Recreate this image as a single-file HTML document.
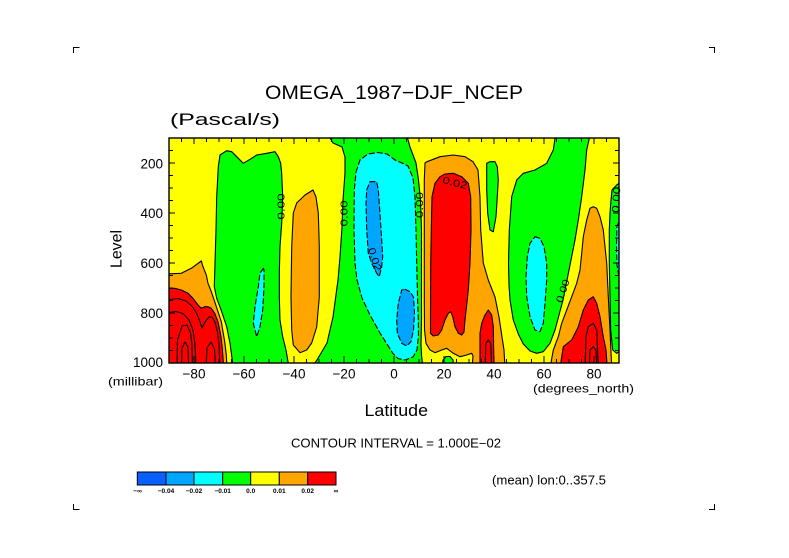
<!DOCTYPE html>
<html><head><meta charset="utf-8">
<style>
html,body{margin:0;padding:0;background:#fff;}
svg{display:block;}
text{font-family:"Liberation Sans",sans-serif;fill:#000;}
</style></head><body>
<svg width="789" height="558" viewBox="0 0 789 558" xmlns="http://www.w3.org/2000/svg">
<defs><clipPath id="c"><rect x="169" y="138" width="450" height="225"/></clipPath></defs>
<rect x="0" y="0" width="789" height="558" fill="#fff"/>

<!-- corner marks -->
<path d="M73.5,53 V47.5 H79.5 M709,47.5 H714.5 V53 M73.5,504 V509.5 H79.5 M714.5,504 V509.5 H709" fill="none" stroke="#000" stroke-width="1"/>

<!-- titles -->
<text x="265" y="99" font-size="19.5" textLength="258" lengthAdjust="spacingAndGlyphs">OMEGA_1987−DJF_NCEP</text>
<text x="170" y="125" font-size="16.5" textLength="110" lengthAdjust="spacingAndGlyphs">(Pascal/s)</text>

<g clip-path="url(#c)" stroke="#000" stroke-width="1.1" stroke-linejoin="round" stroke-linecap="round">
<rect x="169" y="138" width="450" height="225" fill="#ffff00" stroke="none"/>

<!-- green regions (0 contour, solid) -->
<g fill="#00ff00">
<path d="M220,155 L226.7,150.7 L231.7,151.7 L236.7,156.7 L243.3,163.3 L250,159.3 L256.7,155 L266.7,153.3 L275,151.7 L278.3,156.7 L280.7,163.3 L281.7,173.3 L282.7,196.7 L281.7,223.3 L280,246.7 L279.3,273.3 L279.3,296.7 L280,320 L282.7,336.7 L286,350 L288.3,363.3 L289,368 L232,368 L232.7,363.3 L230,343.3 L226.7,326.7 L221.7,311.7 L216.7,298.3 L214.3,286.7 L215,263.3 L216,230 L216.7,196.7 L218.3,166.7 Z"/>
<path d="M328,134 L330,138 L333,143 L342,147 L345,157 L345,173 L343,200 L342,227 L340,257 L338,280 L333,317 L327,343 L317,360 L311,368 L423,368 L421.5,355 L421,345 L421.5,320 L421.5,280 L421.5,230 L420.5,200 L418.5,180 L416,163 L413,155 L410,147 L407.5,138 L406,134 Z"/>
<path d="M442,368 L443,360 L446,356.5 L450,356.5 L453,360 L454,368 Z"/>
<path d="M486.7,163.3 L490,161.7 L495,161.7 L497.3,166.7 L498.3,180 L497.3,196.7 L496,216.7 L493.3,231.7 L490,230 L487.7,213.3 L486.7,190 Z"/>
<path d="M555,134 L555,138.3 L553.3,150 L546.7,163.3 L535,170 L523.3,173.3 L516.7,180 L511.7,196.7 L509.3,230 L508.5,263 L509,285 L510,300 L513.3,320 L518.3,334 L523.3,344 L530,351 L536.7,353.3 L543.3,351.7 L550,343.3 L555,330 L559,315 L563,300 L566,285 L569,270 L572,255 L575,240 L578.3,220 L581.7,196.7 L585,170 L586.7,150 L589.3,138.3 L590,134 Z"/>
<path d="M610,213.3 L611,200 L612,190 L616.7,185 L619,183.3 L624,183 L624,352 L619,351.7 L616.7,353.3 L612.7,350 L610.7,330 L610,296.7 L609.3,263.3 L609.3,230 Z"/>
</g>

<!-- cyan regions (-0.01, dashed) -->
<g fill="#00ffff" stroke-dasharray="5,3">
<path d="M263.3,268.3 L260,273.3 L258.3,286.7 L255,306.7 L253.3,323.3 L256.7,336.7 L260,326.7 L262.7,310 L264,286.7 L264,270 Z"/>
<path d="M356,172 L360,160 L368,154 L378,152.5 L387,154 L395,160 L402,163 L408,166 L413,178 L415,197 L416,230 L416.7,263 L417.5,297 L418.3,320 L418.5,335 L417,350 L413,357 L405,360 L398,358.5 L393,353.5 L387,344 L380,333 L370,315 L362,298 L357,280 L355,263 L354,230 L354.3,190 Z"/>
<path d="M535,236.7 L540,238.3 L544,246.7 L546.7,263.3 L546.7,280 L545,303.3 L543.3,323.3 L540,331.7 L535,330 L530,316.7 L526.7,296.7 L526,276.7 L527.3,256.7 L530,243.3 Z"/>
<path d="M617,226 L619,222 L624,222 L624,278 L619,277 L617,265 L616.5,245 Z"/>
</g>

<!-- blue regions (-0.02, dashed) -->
<g fill="#00a5ff" stroke-dasharray="5,3">
<path d="M370,181.7 L376.7,181.7 L378.3,190 L380,213.3 L381.7,240 L382.7,256.7 L381.7,266.7 L379.3,276.7 L376.7,273.3 L371.7,263.3 L368.3,253.3 L366.7,230 L366,203.3 L366.7,190 Z"/>
<path d="M405,289.3 L410,291.7 L413.5,297 L414.5,313.3 L413.5,330 L411,341.7 L406.7,346 L401.7,343.3 L397.3,333.3 L396.7,320 L398.3,303.3 L401.7,290 Z"/>
</g>

<!-- orange regions (0.01) -->
<g fill="#ffa500">
<path d="M165,274 L181.3,273.3 L191.3,268.3 L201.3,261 L203,266.7 L206.3,275 L208,283.3 L211.3,291.7 L214.7,301.7 L218,311.7 L221.3,321.7 L223,331.7 L224.7,341.7 L226.3,355 L227,368 L165,368 Z"/>
<path d="M313,190 L316,197 L318.3,213 L319.3,247 L319.3,297 L316.7,327 L311.7,343 L306.7,350 L300,352.7 L293.3,345 L291.7,330 L291,297 L291.7,247 L293.3,213 L296.7,203 L305,195 Z"/>
<path d="M425,163 L427,161.7 L440,156.7 L453,155 L465,156.7 L473,161.7 L478,170 L480,197 L480.7,230 L483.3,263 L488.3,280 L495,297 L499,317 L502,337 L504,350 L505,368 L472,368 L473,356 L471.7,353.3 L466.7,355 L460,356.7 L453.3,353.3 L446.7,348.3 L441.7,350 L435,352.7 L430,350 L426,343.3 L424.5,330 L424.3,300 L424.3,230 L424.3,180 Z"/>
<path d="M590,208.3 L593.3,206.7 L596.7,208.3 L600,216.7 L603.3,230 L606.7,263.3 L608.3,296.7 L610,330 L611.7,368 L550,368 L553.3,350 L558.3,336.7 L561.7,323.3 L566.7,310 L571.7,296.7 L576.7,283.3 L580,270 L581.7,253.3 L583.3,236.7 L586.7,220 Z"/>
</g>

<!-- red regions (0.02) -->
<g fill="#ff0000">
<path d="M165,288.3 L174.7,288.3 L181.3,290 L188,293.3 L193,298.3 L198,305 L201.3,308.3 L204.7,306.7 L208,306.7 L211.3,308.3 L214.7,313.3 L218,321.7 L220.7,335 L222.3,348.3 L223.7,368 L165,368 Z"/>
<path d="M440,176.7 L445,174 L453.3,173.3 L461.7,176.7 L468.3,183.3 L470.7,196.7 L471,230 L470,263.3 L468.3,290 L466.7,305 L465,320 L464,332 L461.7,335 L458.3,333.3 L455,326.7 L452.7,316.7 L450.7,311.7 L448.3,313.3 L445,320 L441.7,330 L438.3,335 L433.3,336 L430.5,333.3 L430.5,316.7 L430.7,263.3 L431.3,230 L432,196.7 L435,183.3 Z"/>
<path d="M480,368 L480,333.3 L481.7,323.3 L485,315 L488.3,310 L491.7,315 L493.3,326.7 L494,368 Z"/>
<path d="M560,368 L563.3,346.7 L571.7,340 L578.3,326.7 L583.3,310 L588.3,300 L593.3,296.7 L596.7,303.3 L600,316.7 L603.3,336.7 L606,350 L607.3,368 Z"/>
</g>

<!-- inner contour lines -->
<g fill="none">
<path d="M166,300 L178,298.5 L186,301 L192,306 L197,314 L200,322 L202,328 L205,322 L209,317 L212,317 L215,322 L217.5,332 L219,345 L220,368"/>
<path d="M166,313 L176,311.5 L183,313.5 L189,320 L193,330 L195,345 L196,368"/>
<path d="M177,368 L177.5,340 L182,326 L187,325 L190.5,333 L192,345 L192.5,368"/>
<path d="M181.5,368 L182,348 L185,342 L188,347 L188.5,368"/>
<path d="M206,368 L207,348 L211,342 L214.5,349 L215.5,368"/>
<path d="M485,368 L486,343.3 L488.3,340 L490.7,343.3 L491.7,368"/>
<path d="M585,368 L586,336.7 L588.3,326.7 L593.3,323.3 L596.7,330 L598.3,368"/>
<path d="M589.3,368 L590,350 L593.3,346.7 L596,350 L596.7,368"/>
</g>
</g>

<!-- contour labels -->
<g font-size="10">
<text transform="translate(284.5,206.5) rotate(-90)" text-anchor="middle" textLength="26" lengthAdjust="spacingAndGlyphs">0.00</text>
<text transform="translate(347.5,213.5) rotate(-90)" text-anchor="middle" textLength="26" lengthAdjust="spacingAndGlyphs">0.00</text>
<text transform="translate(368,249) rotate(72)" textLength="24" lengthAdjust="spacingAndGlyphs">0.02</text>
<text transform="translate(423,205) rotate(-90)" text-anchor="middle" textLength="26" lengthAdjust="spacingAndGlyphs">0.00</text>
<text transform="translate(442,183) rotate(14)" textLength="25" lengthAdjust="spacingAndGlyphs">0.02</text>
<text transform="translate(566,292) rotate(-72)" text-anchor="middle" textLength="24" lengthAdjust="spacingAndGlyphs">0.00</text>
<text transform="translate(619.5,200) rotate(-86)" text-anchor="middle" textLength="26" lengthAdjust="spacingAndGlyphs">0.00</text>
</g>

<!-- ticks -->
<path fill="none" stroke="#000" stroke-width="1" d="
M181.5,363v-4M206.5,363v-4M219,363v-4M231.5,363v-4M256.5,363v-4M269,363v-4M281.5,363v-4M306.5,363v-4M319,363v-4M331.5,363v-4M356.5,363v-4M369,363v-4M381.5,363v-4M406.5,363v-4M419,363v-4M431.5,363v-4M456.5,363v-4M469,363v-4M481.5,363v-4M506.5,363v-4M519,363v-4M531.5,363v-4M556.5,363v-4M569,363v-4M581.5,363v-4M606.5,363v-4
M194,363v-7M244,363v-7M294,363v-7M344,363v-7M394,363v-7M444,363v-7M494,363v-7M544,363v-7M594,363v-7
M181.5,138v4M206.5,138v4M219,138v4M231.5,138v4M256.5,138v4M269,138v4M281.5,138v4M306.5,138v4M319,138v4M331.5,138v4M356.5,138v4M369,138v4M381.5,138v4M406.5,138v4M419,138v4M431.5,138v4M456.5,138v4M469,138v4M481.5,138v4M506.5,138v4M519,138v4M531.5,138v4M556.5,138v4M569,138v4M581.5,138v4M606.5,138v4
M194,138v6M244,138v6M294,138v6M344,138v6M394,138v6M444,138v6M494,138v6M544,138v6M594,138v6
M169,150.5h4M169,175.5h4M169,188h4M169,200.5h4M169,225.5h4M169,238h4M169,250.5h4M169,275.5h4M169,288h4M169,300.5h4M169,325.5h4M169,338h4M169,350.5h4
M169,163h6M169,213h6M169,263h6M169,313h6
M619,150.5h-4M619,175.5h-4M619,188h-4M619,200.5h-4M619,225.5h-4M619,238h-4M619,250.5h-4M619,275.5h-4M619,288h-4M619,300.5h-4M619,325.5h-4M619,338h-4M619,350.5h-4
M619,163h-6M619,213h-6M619,263h-6M619,313h-6"/>

<!-- plot border -->
<rect x="169" y="138" width="450" height="225" fill="none" stroke="#000" stroke-width="1.4"/>

<!-- axis labels -->
<g font-size="13.5" text-anchor="end">
<text x="163" y="168.3">200</text>
<text x="163" y="218">400</text>
<text x="163" y="268">600</text>
<text x="163" y="318">800</text>
<text x="163" y="367">1000</text>
</g>
<g font-size="13.5" text-anchor="middle">
<text x="194" y="378.5">−80</text>
<text x="244" y="378.5">−60</text>
<text x="294" y="378.5">−40</text>
<text x="344" y="378.5">−20</text>
<text x="394" y="378.5">0</text>
<text x="444" y="378.5">20</text>
<text x="494" y="378.5">40</text>
<text x="544" y="378.5">60</text>
<text x="594" y="378.5">80</text>
</g>
<text transform="translate(121.5,268) rotate(-90)" font-size="16" textLength="38" lengthAdjust="spacingAndGlyphs">Level</text>
<text x="108" y="385.5" font-size="12" textLength="55" lengthAdjust="spacingAndGlyphs">(millibar)</text>
<text x="533" y="392.5" font-size="12" textLength="101" lengthAdjust="spacingAndGlyphs">(degrees_north)</text>
<text x="364.5" y="416" font-size="16.5" textLength="63.5" lengthAdjust="spacingAndGlyphs">Latitude</text>
<text x="291" y="447.5" font-size="12.5" textLength="210" lengthAdjust="spacingAndGlyphs">CONTOUR INTERVAL = 1.000E−02</text>
<text x="492" y="484.5" font-size="12.5" textLength="114" lengthAdjust="spacingAndGlyphs">(mean) lon:0..357.5</text>

<!-- colorbar -->
<g stroke="#000" stroke-width="1">
<rect x="137.3" y="472" width="28.7" height="13" fill="#0a5fff"/>
<rect x="166" y="472" width="28" height="13" fill="#00a5ff"/>
<rect x="194" y="472" width="28.7" height="13" fill="#00ffff"/>
<rect x="222.7" y="472" width="28" height="13" fill="#00ff00"/>
<rect x="250.7" y="472" width="28.6" height="13" fill="#ffff00"/>
<rect x="279.3" y="472" width="28.4" height="13" fill="#ffa500"/>
<rect x="307.7" y="472" width="28.3" height="13" fill="#ff0000"/>
</g>
<g font-size="6.5" font-weight="bold" text-anchor="middle">
<text x="137.5" y="493">−∞</text>
<text x="166" y="493">−0.04</text>
<text x="194" y="493">−0.02</text>
<text x="222.7" y="493">−0.01</text>
<text x="250.7" y="493">0.0</text>
<text x="279.3" y="493">0.01</text>
<text x="307.7" y="493">0.02</text>
<text x="336" y="493">∞</text>
</g>
</svg>
</body></html>
